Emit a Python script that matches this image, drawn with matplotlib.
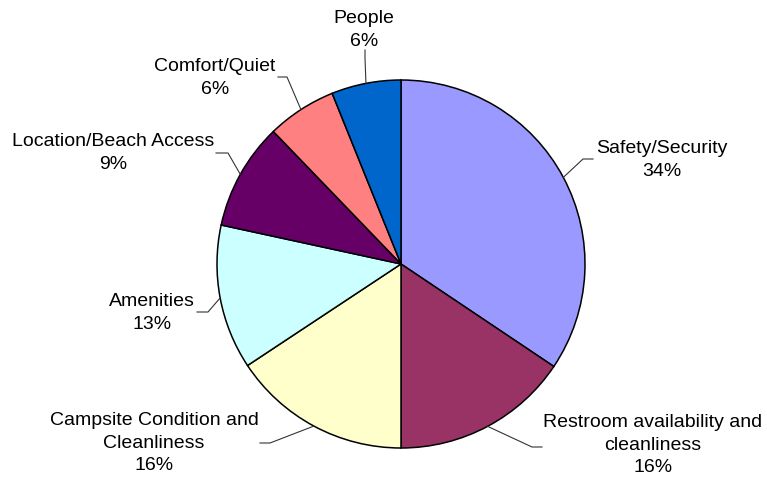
import numpy as np
import matplotlib

matplotlib.use("Agg")
import matplotlib.pyplot as plt

plt.rcParams["font.family"] = ["Liberation Sans", "DejaVu Sans"]

# slices, clockwise from 12 o'clock
categories = [
    "Safety/Security",
    "Restroom availability and\ncleanliness",
    "Campsite Condition and\nCleanliness",
    "Amenities",
    "Location/Beach Access",
    "Comfort/Quiet",
    "People",
]
shares = [34.4, 15.6, 15.7, 12.7, 9.4, 6.1, 6.1]
colors = ["#9999FF", "#993366", "#FFFFCC", "#CCFFFF", "#660066", "#FF8080", "#0066CC"]

W, H = 767, 478
CX, CY, R = 401, 264, 184  # pie centre / radius in pixel space (y down)

# label layout in pixels (y down): text centre, leader elbow, leader end
label_pos = [(662, 160), (653, 445), (154, 443), (152, 313), (113, 153), (215, 78), (364, 30)]
elbows = [(583, 159), (532, 447), (270, 443), (208, 312), (228, 153), (287, 77), (365, 58)]
ends = [(593, 159), (542, 447), (260, 443), (197, 312), (216, 153), (278, 77), (365, 50)]


def px(x, y):
    return x, H - y


fig = plt.figure(figsize=(W / 100, H / 100), dpi=100)
ax = fig.add_axes([0, 0, 1, 1])

wedges, _ = ax.pie(
    shares,
    colors=colors,
    startangle=90,
    counterclock=False,
    center=px(CX, CY),
    radius=R,
    wedgeprops=dict(edgecolor="black", linewidth=1.1),
)

for w, name, val, tp, el, en in zip(wedges, categories, shares, label_pos, elbows, ends):
    mid = np.deg2rad((w.theta1 + w.theta2) / 2)
    ex, ey = CX + R * np.cos(mid), CY - R * np.sin(mid)
    xs, ys = zip(*[px(ex, ey), px(*el), px(*en)])
    ax.plot(xs, ys, color="#333333", lw=0.8)
    ax.text(*px(*tp), f"{name}\n{val:.0f}%", ha="center", va="center",
            fontsize=14.0, linespacing=1.43, color="black")

ax.set_xlim(0, W)
ax.set_ylim(0, H)
ax.set_aspect("auto")
ax.axis("off")

fig.savefig("out.png", dpi=100)
